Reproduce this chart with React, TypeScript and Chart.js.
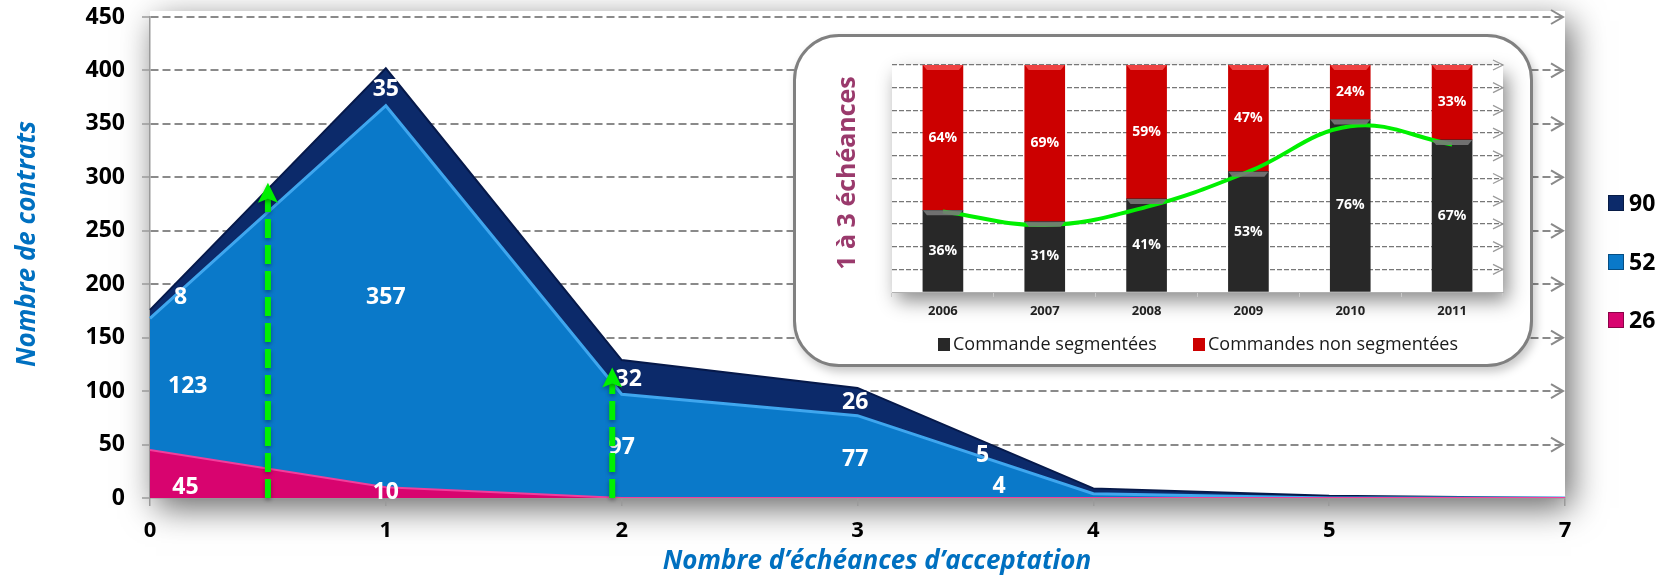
import React, { useEffect, useRef } from "react";
import { Chart, registerables } from "chart.js";

Chart.register(...registerables);

// ---------- main chart data ----------
const categories = ["0", "1", "2", "3", "4", "5", "7"];
const seriesNames = ["26", "52", "90"];
const series26 = [45, 10, 0, 0, 0, 0, 0];
const series52 = [123, 357, 97, 77, 4, 0, 0];
const series90 = [8, 35, 32, 26, 5, 2, 0];
const yMin = 0;
const yMax = 450;
const yStep = 50;
const yTitle = "Nombre de contrats";
const xTitle = "Nombre d\u2019échéances d\u2019acceptation";

// ---------- inset chart data ----------
const insetYears = ["2006", "2007", "2008", "2009", "2010", "2011"];
const segmentedShare = [36, 31, 41, 53, 76, 67];
const nonSegmentedShare = [64, 69, 59, 47, 24, 33];
const trendCurve = [35.5, 29.5, 37.5, 53, 73, 65];
const insetLegend = ["Commande segmentées", "Commandes non segmentées"];
const insetTitle = "1 à 3 échéances";

// ---------- annotation placement (in axis units) ----------
const labelSpots = [
  { ds: 0, i: 0, at: 0.15, v: 10 },
  { ds: 0, i: 1, at: 1.0, v: 5 },
  { ds: 1, i: 0, at: 0.16, v: 104 },
  { ds: 1, i: 1, at: 1.0, v: 188 },
  { ds: 1, i: 2, at: 2.0, v: 47 },
  { ds: 1, i: 3, at: 2.99, v: 36 },
  { ds: 1, i: 4, at: 3.6, v: 11 },
  { ds: 2, i: 0, at: 0.13, v: 188 },
  { ds: 2, i: 1, at: 1.0, v: 382 },
  { ds: 2, i: 2, at: 2.03, v: 111 },
  { ds: 2, i: 3, at: 2.99, v: 89 },
  { ds: 2, i: 4, at: 3.53, v: 40 },
];
const arrowMarks = [
  { at: 0.5, top: 295 },
  { at: 1.96, top: 122 },
];

const FONT = "'Open Sans', 'DejaVu Sans', sans-serif";
const COLORS = {
  pink: "#D8046F",
  pinkEdge: "#F23E9C",
  blue: "#0A79C9",
  blueEdge: "#3FA6EE",
  navy: "#0C2A6A",
  navyEdge: "#06194A",
};

function chevron(ctx: CanvasRenderingContext2D, x: number, y: number, w: number, h: number) {
  ctx.beginPath();
  ctx.moveTo(x - w, y - h);
  ctx.lineTo(x, y);
  ctx.lineTo(x - w, y + h);
  ctx.stroke();
}

function MainChart() {
  const ref = useRef<HTMLCanvasElement>(null);
  useEffect(() => {
    const canvas = ref.current!;
    const shadowPlugin = {
      id: "plotShadow",
      beforeDraw(chart: any) {
        const { ctx, chartArea } = chart;
        ctx.save();
        ctx.fillStyle = "#ffffff";
        ctx.shadowColor = "rgba(0,0,0,0.6)";
        ctx.shadowBlur = 32;
        ctx.shadowOffsetX = 6;
        ctx.shadowOffsetY = 10;
        ctx.fillRect(chartArea.left, chartArea.top - 6, chartArea.right - chartArea.left, chartArea.bottom - chartArea.top + 6);
        ctx.restore();
      },
    };
    const gridArrows = {
      id: "gridArrows",
      beforeDatasetsDraw(chart: any) {
        const { ctx, chartArea } = chart;
        const ys = chart.scales.y;
        ctx.save();
        ctx.strokeStyle = "#8a8a8a";
        ctx.lineWidth = 2;
        ys.ticks.forEach((t: any) => {
          if (t.value === 0) return;
          const py = ys.getPixelForValue(t.value);
          chevron(ctx, chartArea.right - 2, py, 12, 7);
        });
        ctx.restore();
      },
    };
    const annotations = {
      id: "annotations",
      afterDatasetsDraw(chart: any) {
        const { ctx } = chart;
        const xs = chart.scales.x;
        const ys = chart.scales.y;
        ctx.save();
        ctx.font = `bold 23px ${FONT}`;
        ctx.fillStyle = "#ffffff";
        ctx.textAlign = "center";
        ctx.textBaseline = "middle";
        labelSpots.forEach((s) => {
          const val = chart.data.datasets[s.ds].data[s.i];
          ctx.fillText(String(val), xs.getPixelForValue(s.at), ys.getPixelForValue(s.v));
        });
        ctx.restore();

        arrowMarks.forEach((a) => {
          const px = xs.getPixelForValue(a.at);
          const y0 = ys.getPixelForValue(0);
          const yT = ys.getPixelForValue(a.top);
          ctx.save();
          ctx.shadowColor = "rgba(0,0,0,0.35)";
          ctx.shadowBlur = 4;
          ctx.shadowOffsetY = 2;
          ctx.strokeStyle = "#00F000";
          ctx.lineWidth = 6;
          ctx.setLineDash([19, 7]);
          ctx.beginPath();
          ctx.moveTo(px, y0);
          ctx.lineTo(px, yT + 16);
          ctx.stroke();
          ctx.setLineDash([]);
          ctx.fillStyle = "#00F000";
          ctx.beginPath();
          ctx.moveTo(px, yT);
          ctx.lineTo(px - 10, yT + 20);
          ctx.lineTo(px, yT + 16);
          ctx.lineTo(px + 10, yT + 20);
          ctx.closePath();
          ctx.fill();
          ctx.restore();
        });
      },
      afterDraw(chart: any) {
        const { ctx } = chart;
        ctx.save();
        // axis titles
        ctx.fillStyle = "#0070C0";
        ctx.font = `italic bold 26px ${FONT}`;
        ctx.textAlign = "center";
        ctx.textBaseline = "middle";
        ctx.fillText(xTitle, 877, 562);
        ctx.save();
        ctx.translate(28, 244);
        ctx.rotate(-Math.PI / 2);
        ctx.fillText(yTitle, 0, 0);
        ctx.restore();
        // legend (reverse order, top = last series)
        const ys = [203, 262, 320];
        const ds = chart.data.datasets;
        for (let k = 0; k < ds.length; k++) {
          const d = ds[ds.length - 1 - k];
          const cy = ys[k];
          ctx.fillStyle = d.backgroundColor;
          ctx.fillRect(1608, cy - 8, 16, 16);
          ctx.strokeStyle = "rgba(0,0,0,0.35)";
          ctx.lineWidth = 1;
          ctx.strokeRect(1608.5, cy - 7.5, 15, 15);
          ctx.fillStyle = "#000";
          ctx.font = `bold 23px ${FONT}`;
          ctx.textAlign = "left";
          ctx.textBaseline = "middle";
          ctx.fillText(d.label, 1629, cy + 1);
        }
        ctx.restore();
      },
    };

    const chart = new Chart(canvas, {
      type: "line",
      data: {
        labels: categories,
        datasets: [
          {
            label: seriesNames[0],
            data: series26,
            fill: "origin",
            backgroundColor: COLORS.pink,
            borderColor: COLORS.pinkEdge,
            borderWidth: 2,
            pointRadius: 0,
            tension: 0,
          },
          {
            label: seriesNames[1],
            data: series52,
            fill: "-1",
            backgroundColor: COLORS.blue,
            borderColor: COLORS.blueEdge,
            borderWidth: 3,
            pointRadius: 0,
            tension: 0,
          },
          {
            label: seriesNames[2],
            data: series90,
            fill: "-1",
            backgroundColor: COLORS.navy,
            borderColor: COLORS.navyEdge,
            borderWidth: 2,
            pointRadius: 0,
            tension: 0,
          },
        ],
      },
      options: {
        animation: false,
        responsive: false,
        layout: { padding: { left: 0, top: 17, right: 101, bottom: 0 } },
        plugins: { legend: { display: false }, tooltip: { enabled: false } },
        scales: {
          x: {
            type: "category",
            offset: false,
            grid: {
              drawOnChartArea: false,
              drawTicks: true,
              tickLength: 8,
              color: "#9a9a9a",
              lineWidth: 1.5,
            },
            border: { color: "#9a9a9a", width: 1.5 },
            ticks: {
              font: { family: FONT, size: 22, weight: "bold" },
              color: "#000",
              padding: 12,
              maxRotation: 0,
              autoSkip: false,
            },
            afterFit: (s: any) => {
              s.height = 83;
            },
          },
          y: {
            stacked: true,
            min: yMin,
            max: yMax,
            ticks: {
              stepSize: yStep,
              font: { family: FONT, size: 23, weight: "bold" },
              color: "#000",
              padding: 17,
            },
            grid: {
              color: (c: any) => (c.tick && c.tick.value === 0 ? "rgba(0,0,0,0)" : "#8a8a8a"),
              lineWidth: 2,
              tickLength: 8,
              tickColor: "#9a9a9a",
              tickWidth: 1.5,
            },
            border: { dash: [8, 4], color: "#9a9a9a", width: 1.5 },
            afterFit: (s: any) => {
              s.width = 150;
              s.paddingTop = 0;
              s.paddingBottom = 0;
            },
          },
        },
      } as any,
      plugins: [shadowPlugin, gridArrows, annotations],
    });
    return () => chart.destroy();
  }, []);
  return (
    <canvas
      ref={ref}
      width={1666}
      height={581}
      style={{ position: "absolute", left: 0, top: 0, width: 1666, height: 581, display: "block" }}
    />
  );
}

function InsetChart() {
  const ref = useRef<HTMLCanvasElement>(null);
  useEffect(() => {
    const canvas = ref.current!;
    const insetPlugin = {
      id: "insetDeco",
      beforeDraw(chart: any) {
        const { ctx, chartArea } = chart;
        ctx.save();
        ctx.fillStyle = "#ffffff";
        ctx.shadowColor = "rgba(0,0,0,0.45)";
        ctx.shadowBlur = 18;
        ctx.shadowOffsetX = 5;
        ctx.shadowOffsetY = 9;
        ctx.fillRect(chartArea.left, chartArea.top, chartArea.right - chartArea.left, chartArea.bottom - chartArea.top);
        ctx.restore();
      },
      beforeDatasetsDraw(chart: any) {
        const { ctx, chartArea } = chart;
        const ys = chart.scales.y;
        ctx.save();
        ctx.strokeStyle = "#9a9a9a";
        ctx.lineWidth = 1.3;
        ys.ticks.forEach((t: any) => {
          if (t.value === 0) return;
          chevron(ctx, chartArea.right, ys.getPixelForValue(t.value), 10, 5);
        });
        ctx.restore();
      },
      afterDatasetsDraw(chart: any) {
        const { ctx } = chart;
        ctx.save();
        // bevel caps on top of each bar segment
        chart.data.datasets.forEach((d: any, di: number) => {
          if (d.type !== "bar") return;
          const meta = chart.getDatasetMeta(di);
          const cap = di === 1 ? "rgba(120,120,120,0.9)" : "rgba(240,70,70,0.95)";
          meta.data.forEach((el: any) => {
            const l = el.x - el.width / 2;
            const r = el.x + el.width / 2;
            const t = el.y;
            ctx.fillStyle = cap;
            ctx.beginPath();
            ctx.moveTo(l, t);
            ctx.lineTo(r, t);
            ctx.lineTo(r - 4, t + 5);
            ctx.lineTo(l + 4, t + 5);
            ctx.closePath();
            ctx.fill();
          });
        });
        ctx.restore();
      },
      afterDraw(chart: any) {
        const { ctx } = chart;
        ctx.save();
        ctx.font = `bold 14px ${FONT}`;
        ctx.fillStyle = "#ffffff";
        ctx.textAlign = "center";
        ctx.textBaseline = "middle";
        chart.data.datasets.forEach((d: any, di: number) => {
          if (d.type !== "bar") return;
          const meta = chart.getDatasetMeta(di);
          meta.data.forEach((el: any, i: number) => {
            ctx.fillText(`${d.data[i]}%`, el.x, (el.y + el.base) / 2);
          });
        });
        ctx.restore();
        // title
        ctx.save();
        ctx.fillStyle = "#9A3A6C";
        ctx.font = `bold 25px ${FONT}`;
        ctx.textAlign = "center";
        ctx.textBaseline = "middle";
        ctx.translate(52, 136);
        ctx.rotate(-Math.PI / 2);
        ctx.fillText(insetTitle, 0, 0);
        ctx.restore();
        // legend
        ctx.save();
        ctx.font = `18px ${FONT}`;
        ctx.textBaseline = "middle";
        ctx.textAlign = "left";
        const xs = [142, 397];
        const bars = chart.data.datasets.filter((d: any) => d.type === "bar");
        bars.forEach((d: any, k: number) => {
          const x = xs[k];
          ctx.fillStyle = d.backgroundColor;
          ctx.fillRect(x, 301, 12, 13);
          ctx.fillStyle = "#1a1a1a";
          ctx.fillText(d.label, x + 15, 308);
        });
        ctx.restore();
      },
    };
    const chart = new Chart(canvas, {
      type: "bar",
      data: {
        labels: insetYears,
        datasets: [
          {
            type: "line",
            label: "trend",
            data: trendCurve,
            borderColor: "#00F000",
            borderWidth: 4,
            tension: 0.4,
            pointRadius: 0,
            fill: false,
            order: 0,
          },
          {
            type: "bar",
            label: insetLegend[0],
            data: segmentedShare,
            backgroundColor: "#282828",
            barThickness: 40,
            stack: "s",
            order: 1,
          },
          {
            type: "bar",
            label: insetLegend[1],
            data: nonSegmentedShare,
            backgroundColor: "#CC0000",
            barThickness: 40,
            stack: "s",
            order: 1,
          },
        ],
      } as any,
      options: {
        animation: false,
        responsive: false,
        layout: { padding: { left: 0, top: 28, right: 27, bottom: 0 } },
        plugins: { legend: { display: false }, tooltip: { enabled: false } },
        scales: {
          x: {
            stacked: true,
            grid: { drawOnChartArea: false, drawTicks: true, tickLength: 5, color: "#c8c8c8" },
            border: { color: "#b0b0b0", width: 1 },
            ticks: { font: { family: FONT, size: 13, weight: "bold" }, color: "#222", padding: 6 },
            afterFit: (s: any) => {
              s.height = 72;
            },
          },
          y: {
            stacked: true,
            min: 0,
            max: 100,
            ticks: { display: false, stepSize: 10 },
            grid: {
              color: (c: any) => (c.tick && c.tick.value === 0 ? "rgba(0,0,0,0)" : "#777"),
              lineWidth: 1.3,
              drawTicks: false,
            },
            border: { display: false, dash: [5, 2] },
            afterFit: (s: any) => {
              s.width = 96;
            },
          },
        },
      } as any,
      plugins: [insetPlugin],
    });
    return () => chart.destroy();
  }, []);
  return (
    <canvas
      ref={ref}
      width={734}
      height={327}
      style={{ position: "absolute", left: 0, top: 0, width: 734, height: 327, display: "block" }}
    />
  );
}

export default function App() {
  return (
    <div
      style={{
        position: "absolute",
        left: 0,
        top: 0,
        width: 1666,
        height: 581,
        background: "#ffffff",
        overflow: "hidden",
      }}
    >
      <MainChart />
      <div
        style={{
          position: "absolute",
          left: 793,
          top: 34,
          width: 740,
          height: 333,
          boxSizing: "border-box",
          border: "3px solid #808080",
          borderRadius: 46,
          background: "#ffffff",
          boxShadow: "3px 5px 10px rgba(0,0,0,0.22)",
        }}
      >
        <InsetChart />
      </div>
    </div>
  );
}
